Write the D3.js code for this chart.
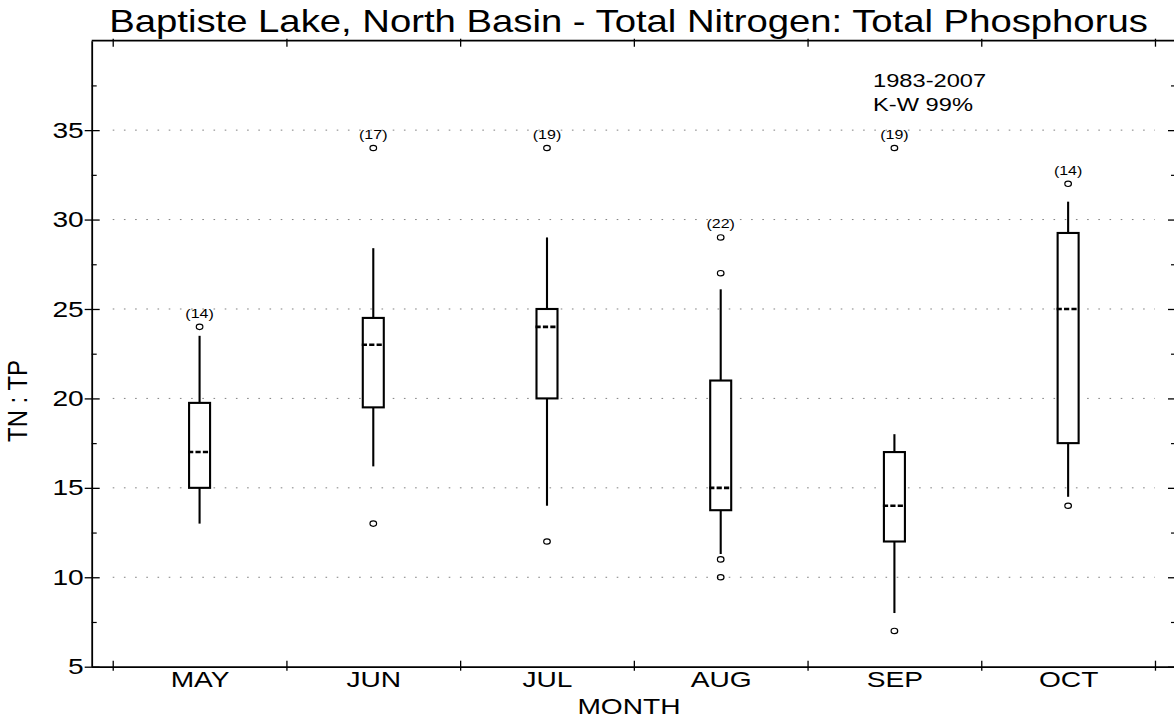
<!DOCTYPE html>
<html>
<head>
<meta charset="utf-8">
<script src="https://cdn.jsdelivr.net/npm/d3@7"></script>
<style>
  html, body { margin: 0; padding: 0; background: #fff; }
  svg { display: block; font-family: "Liberation Sans", Arial, Helvetica, sans-serif; }
</style>
</head>
<body>
<script>
// Monthly TN:TP box plots, Baptiste Lake north basin, 1983-2007
const months = ["MAY", "JUN", "JUL", "AUG", "SEP", "OCT"];
const counts = [14, 17, 19, 22, 19, 14];
const whiskerLow = [13, 16.2, 14, 11.3, 8, 14.5];
const q1 = [15, 19.5, 20, 13.75, 12, 17.5];
const medians = [17, 23, 24, 15, 14, 25];
const q3 = [19.75, 24.5, 25, 21, 17, 29.25];
const whiskerHigh = [23.5, 28.4, 29, 26.1, 18, 31];
const outliers = [[24], [13, 34], [12, 34], [10, 11, 27, 29], [7, 34], [14, 32]];
const yMajorTicks = [5, 10, 15, 20, 25, 30, 35];
const yMinorTicks = [7.5, 12.5, 17.5, 22.5, 27.5, 32.5, 37.5];
const gridValues = [10, 15, 20, 25, 30, 35];
const monthBounds = [-0.5, 0.5, 1.5, 2.5, 3.5, 4.5, 5.5];

const W = 1174, H = 719;
const TEXT_STRETCH = 1.28;

const svg = d3.select("body").append("svg").attr("width", W).attr("height", H);

const x = d3.scaleLinear().domain([-0.621, 5.621]).range([91.7, 1176]);
const y = d3.scaleLinear().domain([5, 40]).range([666.7, 40.7]);

// widen glyphs horizontally about their own anchor point
function stretch(sel, k = TEXT_STRETCH) {
  sel.each(function () {
    const ax = +this.getAttribute("x") || 0;
    d3.select(this).attr("transform",
      `translate(${ax},0) scale(${k},1) translate(${-ax},0)`);
  });
}

// dotted horizontal reference lines
svg.append("g").selectAll("line").data(gridValues).join("line")
  .attr("x1", x(-0.5)).attr("x2", x(5.5))
  .attr("y1", d => y(d)).attr("y2", d => y(d))
  .attr("stroke", "#808080").attr("stroke-width", 1)
  .attr("stroke-dasharray", "1.6,9.6");

// frame: top and right edges
svg.append("line").attr("x1", x.range()[0]).attr("x2", x.range()[1])
  .attr("y1", y(40)).attr("y2", y(40)).attr("stroke", "#000").attr("stroke-width", 1.8);
svg.append("line").attr("x1", x.range()[1]).attr("x2", x.range()[1])
  .attr("y1", y(40)).attr("y2", y(5)).attr("stroke", "#000").attr("stroke-width", 1.8);

// left axis, major ticks cross the axis line
const leftAxis = svg.append("g").attr("transform", `translate(${x.range()[0]},0)`)
  .call(d3.axisLeft(y).tickValues(yMajorTicks).tickSizeInner(7).tickSizeOuter(0).tickPadding(1));
leftAxis.selectAll(".tick line").attr("x1", 8).attr("stroke-width", 1.3);
leftAxis.select(".domain").attr("stroke-width", 1.8);
leftAxis.attr("font-family", null);
leftAxis.selectAll("text").attr("font-size", 22).attr("fill", "#000").call(stretch);

svg.append("g").attr("transform", `translate(${x.range()[0]},0)`)
  .call(d3.axisLeft(y).tickValues(yMinorTicks).tickSize(-5).tickFormat(""))
  .call(g => g.select(".domain").remove())
  .selectAll("line").attr("stroke-width", 1.2);

// right axis ticks, pointing inward
const rightMajor = svg.append("g").attr("transform", `translate(${x.range()[1]},0)`)
  .call(d3.axisRight(y).tickValues(yMajorTicks).tickSize(-8).tickFormat(""));
rightMajor.select(".domain").remove();
rightMajor.selectAll("line").attr("stroke-width", 1.3);
svg.append("g").attr("transform", `translate(${x.range()[1]},0)`)
  .call(d3.axisRight(y).tickValues(yMinorTicks).tickSize(-5).tickFormat(""))
  .call(g => g.select(".domain").remove())
  .selectAll("line").attr("stroke-width", 1.2);

// bottom axis: month boundary ticks and month labels
const bottomAxis = svg.append("g").attr("transform", `translate(0,${y(5)})`)
  .call(d3.axisBottom(x).tickValues(monthBounds).tickSizeInner(4).tickSizeOuter(0).tickFormat(""));
bottomAxis.selectAll(".tick line").attr("y1", -6).attr("stroke-width", 1.3);
bottomAxis.select(".domain").attr("stroke-width", 1.8);

const monthAxis = svg.append("g").attr("transform", `translate(0,${y(5)})`)
  .call(d3.axisBottom(x).tickValues(d3.range(months.length)).tickFormat(i => months[i])
    .tickSize(0).tickPadding(5));
monthAxis.select(".domain").remove();
monthAxis.attr("font-family", null);
monthAxis.selectAll("text").attr("font-size", 22).attr("fill", "#000").call(stretch);

// top axis boundary ticks
const topAxis = svg.append("g").attr("transform", `translate(0,${y(40)})`)
  .call(d3.axisTop(x).tickValues(monthBounds).tickSize(2).tickFormat(""));
topAxis.select(".domain").remove();
topAxis.selectAll(".tick line").attr("y1", 6).attr("stroke-width", 1.3);

// box plots
const boxW = 21;
const boxes = svg.append("g").selectAll("g").data(months).join("g");

boxes.append("line")
  .attr("x1", (d, i) => x(i)).attr("x2", (d, i) => x(i))
  .attr("y1", (d, i) => y(q3[i])).attr("y2", (d, i) => y(whiskerHigh[i]))
  .attr("stroke", "#000").attr("stroke-width", 2.1);
boxes.append("line")
  .attr("x1", (d, i) => x(i)).attr("x2", (d, i) => x(i))
  .attr("y1", (d, i) => y(q1[i])).attr("y2", (d, i) => y(whiskerLow[i]))
  .attr("stroke", "#000").attr("stroke-width", 2.1);
boxes.append("rect")
  .attr("x", (d, i) => x(i) - boxW / 2).attr("width", boxW)
  .attr("y", (d, i) => y(q3[i])).attr("height", (d, i) => y(q1[i]) - y(q3[i]))
  .attr("fill", "#fff").attr("stroke", "#000").attr("stroke-width", 2.1);
boxes.append("line")
  .attr("x1", (d, i) => x(i) - boxW / 2 - 1).attr("x2", (d, i) => x(i) + boxW / 2 - 1)
  .attr("y1", (d, i) => y(medians[i])).attr("y2", (d, i) => y(medians[i]))
  .attr("stroke", "#000").attr("stroke-width", 2.6).attr("stroke-dasharray", "5.2,2.2");

boxes.each(function (d, i) {
  d3.select(this).selectAll("ellipse").data(outliers[i]).join("ellipse")
    .attr("cx", x(i)).attr("cy", v => y(v))
    .attr("rx", 3.3).attr("ry", 2.7)
    .attr("fill", "none").attr("stroke", "#000").attr("stroke-width", 1.2);
});

// sample counts above each month's highest point
boxes.append("text")
  .attr("x", (d, i) => x(i))
  .attr("y", (d, i) => y(Math.max(whiskerHigh[i], ...outliers[i])) - 9)
  .attr("text-anchor", "middle").attr("font-size", 12.5)
  .text((d, i) => `(${counts[i]})`)
  .call(stretch);

// titles and annotations
svg.append("text").attr("x", 628.5).attr("y", 32).attr("text-anchor", "middle")
  .attr("font-size", 30.5).text("Baptiste Lake, North Basin - Total Nitrogen: Total Phosphorus")
  .call(stretch, 1.255);

svg.append("text").attr("x", 629).attr("y", 714).attr("text-anchor", "middle")
  .attr("font-size", 22).text("MONTH").call(stretch);

svg.append("g").attr("transform", `translate(27,401) scale(${TEXT_STRETCH},1)`)
  .append("text").attr("transform", "rotate(-90)").attr("text-anchor", "middle")
  .attr("font-size", 21.5).attr("textLength", 82).attr("lengthAdjust", "spacingAndGlyphs")
  .text("TN : TP");

svg.append("text").attr("x", 873).attr("y", 87).attr("font-size", 18.5)
  .text("1983-2007").call(stretch);
svg.append("text").attr("x", 873).attr("y", 111.5).attr("font-size", 18.5)
  .text("K-W 99%").call(stretch);
</script>
</body>
</html>
